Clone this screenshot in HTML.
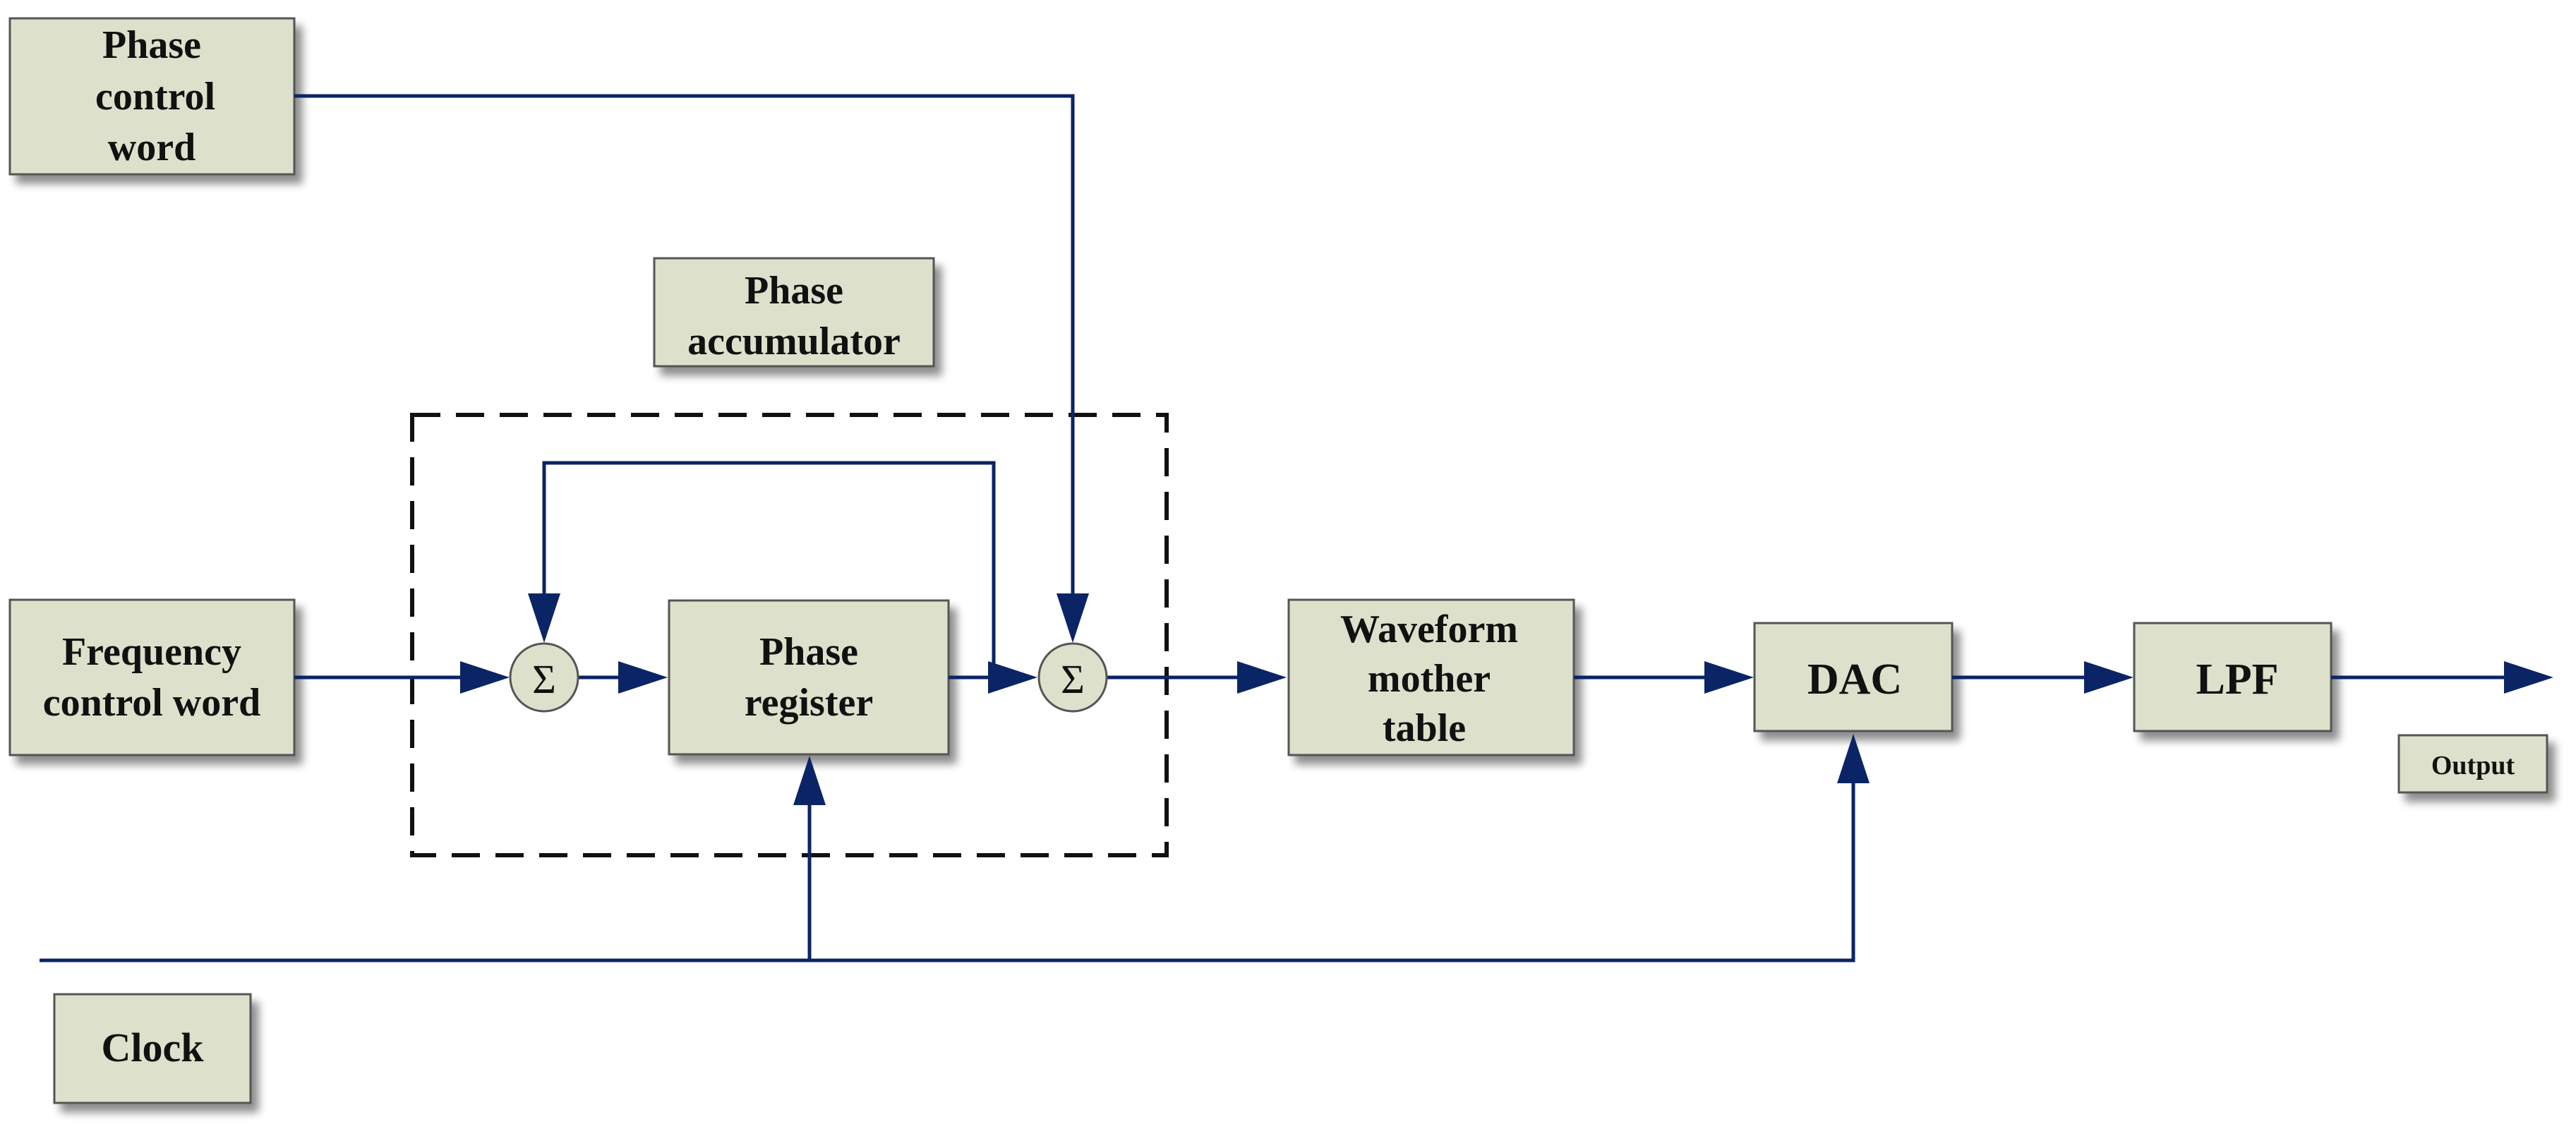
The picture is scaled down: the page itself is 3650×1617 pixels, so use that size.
<!DOCTYPE html>
<html><head><meta charset="utf-8"><style>
html,body{margin:0;padding:0;background:#fff}
svg{display:block}
text{font-family:"Liberation Serif",serif;font-weight:bold;fill:#111;text-anchor:middle}
</style></head><body>
<svg width="3650" height="1617" viewBox="0 0 3650 1617" xmlns="http://www.w3.org/2000/svg">
<defs>
<filter id="sh" x="-10%" y="-10%" width="130%" height="140%">
<feGaussianBlur in="SourceAlpha" stdDeviation="6"/>
<feOffset dx="10" dy="12" result="o"/>
<feComponentTransfer><feFuncA type="linear" slope="0.45"/></feComponentTransfer>
<feMerge><feMergeNode/><feMergeNode in="SourceGraphic"/></feMerge>
</filter>
</defs>
<g fill="#dde1cb" stroke="#555" stroke-width="3" filter="url(#sh)">
<rect x="14" y="26" width="403" height="221"/>
<rect x="927" y="366" width="396" height="153"/>
<rect x="14" y="850" width="403" height="220"/>
<rect x="948" y="851" width="396" height="218"/>
<rect x="1826" y="850" width="404" height="220"/>
<rect x="2486" y="883" width="280" height="153"/>
<rect x="3024" y="883" width="279" height="153"/>
<rect x="3399" y="1042" width="210" height="81"/>
<rect x="77" y="1409" width="278" height="154"/>
</g>
<rect x="584" y="588" width="1069" height="624" fill="none" stroke="#111" stroke-width="6" stroke-dasharray="40,22"/>
<g stroke="#0b2466" stroke-width="5" fill="none">
<polyline points="417,136 1520,136 1520,900"/>
<polyline points="1408,960 1408,656 771,656 771,900"/>
<line x1="417" y1="960" x2="660" y2="960"/>
<line x1="819" y1="960" x2="880" y2="960"/>
<line x1="1344" y1="960" x2="1410" y2="960"/>
<line x1="1568" y1="960" x2="1760" y2="960"/>
<line x1="2230" y1="960" x2="2420" y2="960"/>
<line x1="2766" y1="960" x2="2960" y2="960"/>
<line x1="3303" y1="960" x2="3555" y2="960"/>
<polyline points="56,1361 2626,1361 2626,1100"/>
<line x1="1147" y1="1361" x2="1147" y2="1130"/>
</g>
<g fill="#0b2466">
<polygon points="722,960 652,937 652,983"/>
<polygon points="946,960 876,937 876,983"/>
<polygon points="1470,960 1400,937 1400,983"/>
<polygon points="1823,960 1753,937 1753,983"/>
<polygon points="2485,960 2415,937 2415,983"/>
<polygon points="3023,960 2953,937 2953,983"/>
<polygon points="3618,960 3548,937 3548,983"/>
<polygon points="771,911 748,841 794,841"/>
<polygon points="1520,911 1497,841 1543,841"/>
<polygon points="1147,1071 1124,1141 1170,1141"/>
<polygon points="2626,1040 2603,1110 2649,1110"/>
</g>
<g fill="#dde1cb" stroke="#555" stroke-width="3">
<ellipse cx="771" cy="960" rx="48" ry="48"/>
<ellipse cx="1520" cy="960" rx="48" ry="48"/>
</g>
<text x="771" y="982" style="font-weight:normal;font-size:58px">Σ</text>
<text x="1520" y="982" style="font-weight:normal;font-size:58px">Σ</text>
<g style="font-size:56px">
<text x="215" y="82">Phase</text>
<text x="220" y="155">control</text>
<text x="215" y="227">word</text>
<text x="1125" y="430">Phase</text>
<text x="1125" y="502">accumulator</text>
<text x="215" y="942">Frequency</text>
<text x="215" y="1014">control word</text>
<text x="1146" y="942">Phase</text>
<text x="1146" y="1014">register</text>
<text x="2025" y="910">Waveform</text>
<text x="2025" y="980">mother</text>
<text x="2018" y="1050">table</text>
<text x="216" y="1504" style="font-size:58px">Clock</text>
</g>
<text x="2628" y="983" style="font-size:62px">DAC</text>
<text x="3170" y="983" style="font-size:62px">LPF</text>
<text x="3504" y="1097" style="font-size:38px">Output</text>
</svg>
</body></html>
